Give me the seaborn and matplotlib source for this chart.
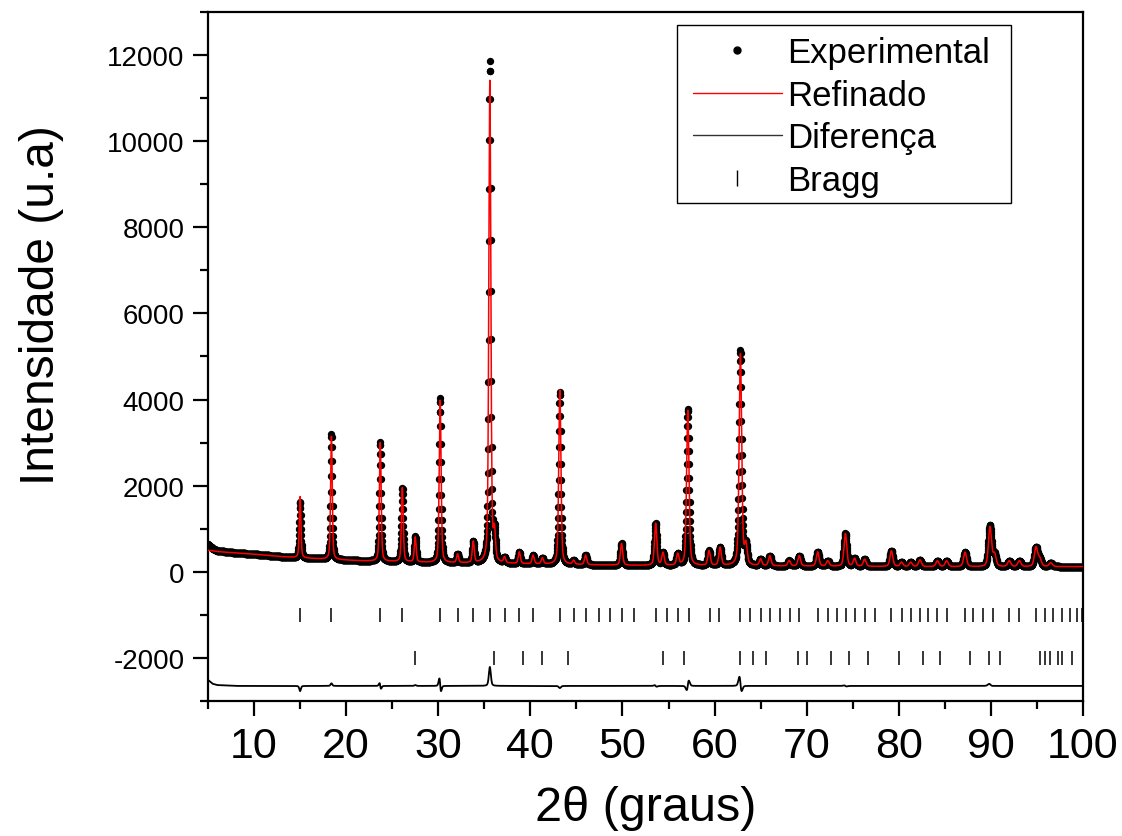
import numpy as np
import matplotlib
matplotlib.use('Agg')
import matplotlib.pyplot as plt
import seaborn as sns
from matplotlib.lines import Line2D
from matplotlib.patches import Rectangle
from matplotlib.ticker import MultipleLocator

# background level (2theta, counts)
bg_pos = [5, 5.5, 6, 8, 10, 13, 17, 22, 30, 40, 50, 60, 70, 80, 90, 100]
bg_obs = [640, 540, 490, 440, 410, 350, 300, 250, 210, 180, 150, 140, 130, 120, 115, 120]
bg_calc = [500, 490, 470, 440, 410, 350, 300, 250, 210, 180, 150, 140, 130, 120, 115, 120]

# reflections: observed position/height and refined position/height (above background)
peak_pos = [15.0, 18.4, 23.7, 26.1, 27.5, 30.2, 32.1, 33.8, 35.6, 36.1, 37.2, 38.8,
            40.3, 41.3, 43.2, 44.7, 46.0, 49.9, 53.6, 54.4, 56.0, 57.1, 59.4, 60.6,
            62.8, 63.4, 65.0, 66.0, 68.1, 69.2, 71.2, 72.3, 74.2, 75.2, 76.3, 79.2,
            80.3, 81.3, 82.3, 84.2, 85.2, 87.2, 89.9, 90.4, 92.0, 93.1, 94.9, 95.3, 96.5]
peak_calc_pos = [15.0, 18.4, 23.704, 26.1, 27.5, 30.207, 32.1, 33.8, 35.6, 36.1, 37.2, 38.8,
                 40.3, 41.3, 43.2, 44.7, 46.0, 49.9, 53.604, 54.4, 56.0, 57.093, 59.4, 60.6,
                 62.808, 63.4, 65.0, 66.0, 68.1, 69.2, 71.2, 72.3, 74.204, 75.2, 76.3, 79.2,
                 80.3, 81.3, 82.3, 84.2, 85.2, 87.2, 89.905, 90.4, 92.0, 93.1, 94.9, 95.3, 96.5]
peak_obs = [1300, 2920, 2760, 1720, 600, 3820, 200, 490, 11640, 650, 130, 270,
            200, 140, 4000, 90, 220, 505, 975, 290, 260, 3630, 340, 420,
            4990, 450, 150, 230, 125, 240, 330, 125, 760, 180, 165, 365,
            100, 100, 155, 135, 135, 335, 960, 280, 135, 135, 445, 180, 90]
peak_calc = [1420, 2860, 2760, 1720, 580, 3780, 200, 490, 11200, 650, 130, 270,
             200, 140, 4050, 90, 220, 505, 975, 290, 260, 3610, 340, 420,
             4920, 450, 150, 230, 125, 240, 330, 125, 760, 180, 165, 365,
             100, 100, 155, 135, 135, 335, 920, 280, 135, 135, 445, 180, 90]

# Bragg reflection markers of the two phases
bragg_1 = [15.0, 18.4, 23.7, 26.05, 30.2, 32.1, 33.8, 35.6, 37.2, 38.8, 40.3, 43.2,
           44.7, 46.0, 47.4, 48.7, 50.0, 51.2, 53.6, 54.8, 56.05, 57.2, 59.5, 60.5,
           62.8, 63.9, 65.0, 66.05, 67.1, 68.15, 69.2, 71.2, 72.3, 73.3, 74.3, 75.3,
           76.3, 77.4, 79.2, 80.3, 81.3, 82.3, 83.2, 84.2, 85.2, 87.2, 88.1, 89.2,
           90.2, 92.0, 93.1, 94.9, 95.9, 96.8, 97.7, 98.6, 99.3, 99.9]
bragg_2 = [27.5, 36.1, 39.2, 41.3, 44.1, 54.4, 56.7, 62.8, 64.2, 65.6, 69.1, 70.0,
           72.6, 74.6, 76.7, 80.0, 82.6, 84.5, 87.7, 89.8, 91.0, 95.3, 95.9, 96.4,
           97.3, 97.7, 98.8]

diff_offset = -2650
step = 0.02


def profile(x, pos, amp):
    y = np.zeros_like(x)
    for p, a in zip(pos, amp):
        w = 0.18 + 0.0025 * (p - 5)
        u = ((x - p) / w) ** 2
        y += a * (0.4 / (1 + 4 * u) + 0.6 * np.exp(-4 * np.log(2) * u))
    return y


tt = np.arange(5, 100 + step / 2, step)
y_obs = np.interp(tt, bg_pos, bg_obs) + profile(tt, peak_pos, peak_obs)
y_calc = np.interp(tt, bg_pos, bg_calc) + profile(tt, peak_calc_pos, peak_calc)
y_diff = y_obs - y_calc + diff_offset

sns.set_style('ticks')
plt.rcParams['font.family'] = ['Liberation Sans', 'DejaVu Sans']
plt.rcParams['axes.unicode_minus'] = False
plt.rcParams['text.color'] = 'black'
plt.rcParams['axes.labelcolor'] = 'black'

fig = plt.figure(figsize=(11.22, 8.37), dpi=100)
ax = fig.add_axes([0.1854, 0.1613, 0.7798, 0.8232])

sns.scatterplot(x=tt, y=y_obs, ax=ax, color='black', s=28, linewidth=0, zorder=2)
sns.lineplot(x=tt, y=y_calc, ax=ax, color='red', lw=1.1, estimator=None, sort=False, zorder=3)
sns.lineplot(x=tt, y=y_diff, ax=ax, color='black', lw=1.3, estimator=None, sort=False, zorder=3)
ax.vlines(bragg_1, -1160, -840, color='black', lw=1.1)
ax.vlines(bragg_2, -2160, -1840, color='black', lw=1.1)

ax.set_xlim(5, 100)
ax.set_ylim(-3000, 13000)
ax.xaxis.set_major_locator(MultipleLocator(10))
ax.xaxis.set_minor_locator(MultipleLocator(5))
ax.yaxis.set_major_locator(MultipleLocator(2000))
ax.yaxis.set_minor_locator(MultipleLocator(1000))
ax.set_xticks(range(10, 101, 10))
ax.set_yticks(range(-2000, 12001, 2000))

for s in ax.spines.values():
    s.set_linewidth(1.6)
    s.set_color('black')
ax.tick_params(which='major', direction='out', length=11, width=1.6, colors='black')
ax.tick_params(which='minor', direction='out', length=5.5, width=1.6, colors='black')
ax.tick_params(axis='x', labelsize=31, pad=7)
ax.tick_params(axis='y', labelsize=20, pad=6)

ax.set_xlabel('2θ (graus)', fontsize=35, labelpad=14)
ax.set_ylabel('Intensidade (u.a)', fontsize=34.5)
ax.yaxis.set_label_coords(-0.165, 0.576)

handles = [
    Line2D([], [], ls='none', marker='o', color='black', markersize=5),
    Line2D([], [], color='red', lw=1),
    Line2D([], [], color='#333333', lw=1),
    Line2D([], [], ls='none', marker='|', color='black', markersize=12, markeredgewidth=1),
]
labels = ['Experimental', 'Refinado', 'Diferença', 'Bragg']
ax.legend(handles, labels, loc='upper left', bbox_to_anchor=(0.6176, 0.9558),
          bbox_transform=fig.transFigure, borderaxespad=0, borderpad=0,
          fontsize=25, frameon=False, handlelength=2.56, handletextpad=0.15,
          labelspacing=0.28)
fig.patches.append(Rectangle((0.6034, 0.7563), 0.2977, 0.2126, transform=fig.transFigure,
                             fill=False, edgecolor='black', lw=1.0, zorder=5))

fig.savefig('out.png', dpi=100)
